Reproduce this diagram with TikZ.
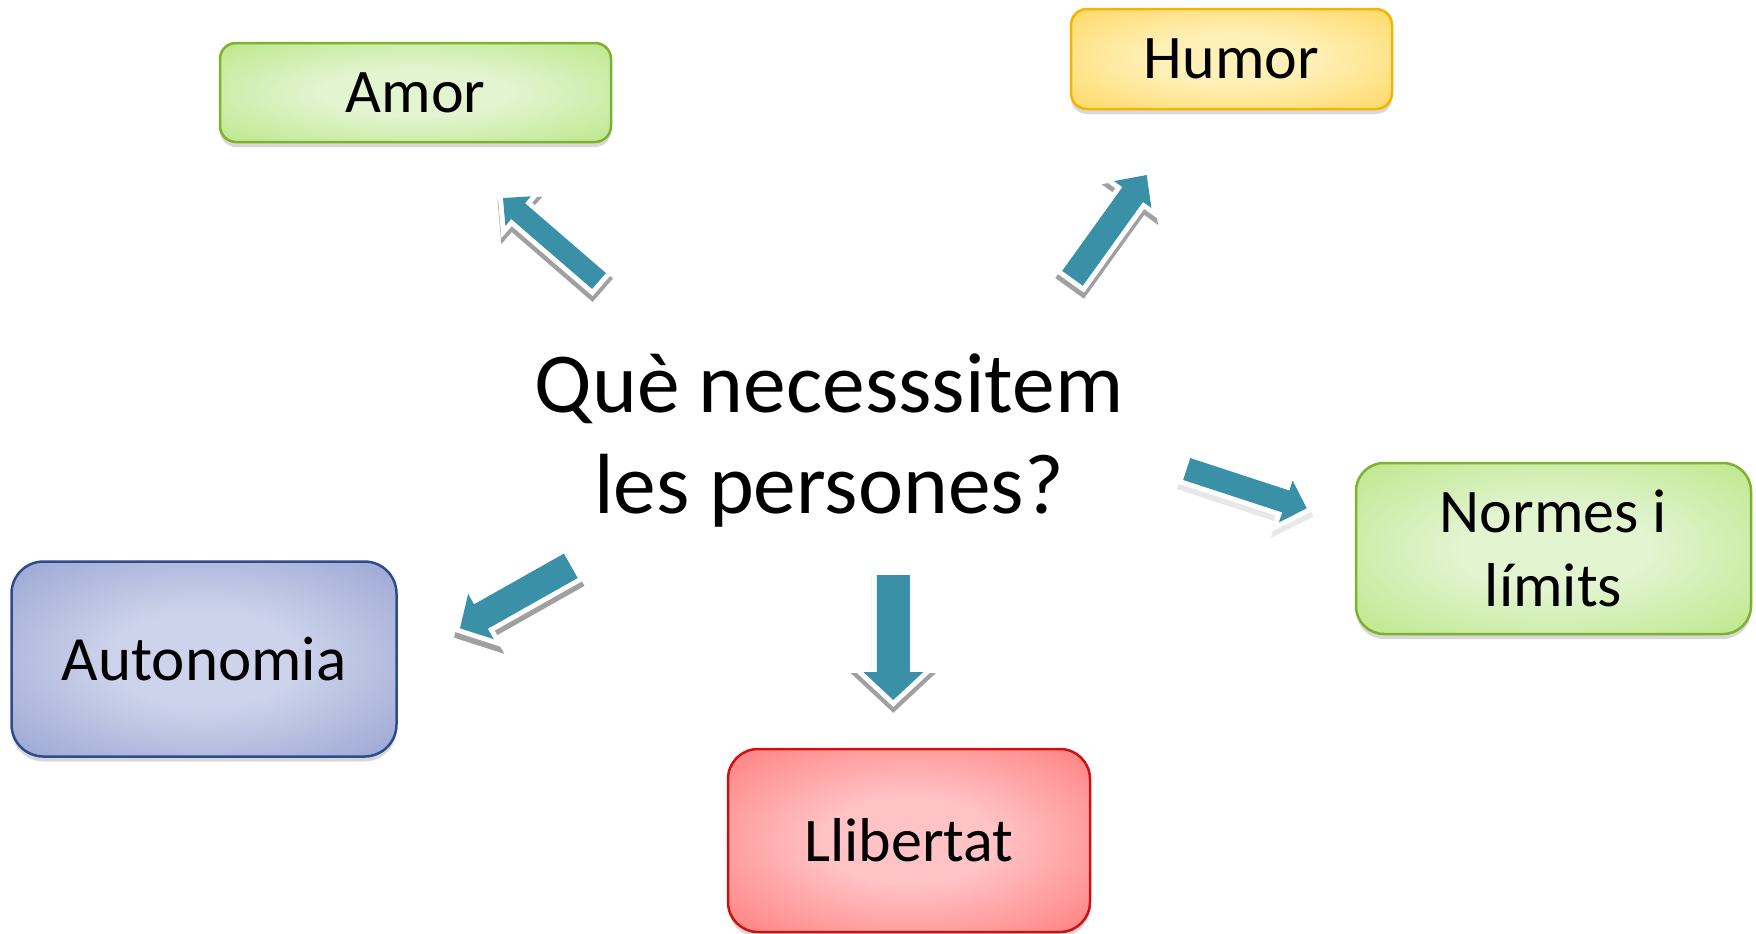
\documentclass[tikz,border=0pt]{standalone}
\usepackage{fontspec}
\setmainfont{Carlito}
\usetikzlibrary{calc,shadows}
\definecolor{arrteal}{RGB}{58,144,166}
\definecolor{grIn}{RGB}{226,244,208}
\definecolor{grOut}{RGB}{188,231,138}
\definecolor{grLine}{RGB}{125,178,47}
\definecolor{yeIn}{RGB}{255,240,184}
\definecolor{yeOut}{RGB}{255,217,102}
\definecolor{yeLine}{RGB}{245,180,0}
\definecolor{blIn}{RGB}{205,211,234}
\definecolor{blOut}{RGB}{154,166,212}
\definecolor{blLine}{RGB}{46,76,140}
\definecolor{rdIn}{RGB}{255,194,197}
\definecolor{rdOut}{RGB}{255,127,127}
\definecolor{rdLine}{RGB}{204,17,17}
\definecolor{shadowgray}{RGB}{160,160,160}
\definecolor{softgray}{RGB}{232,232,232}
\pgfdeclareradialshading{greenshade}{\pgfpointorigin}{color(0bp)=(grIn); color(12bp)=(grIn); color(36bp)=(grOut); color(50bp)=(grOut)}
\pgfdeclareradialshading{yellowshade}{\pgfpointorigin}{color(0bp)=(yeIn); color(12bp)=(yeIn); color(36bp)=(yeOut); color(50bp)=(yeOut)}
\pgfdeclareradialshading{blueshade}{\pgfpointorigin}{color(0bp)=(blIn); color(12bp)=(blIn); color(36bp)=(blOut); color(50bp)=(blOut)}
\pgfdeclareradialshading{redshade}{\pgfpointorigin}{color(0bp)=(rdIn); color(12bp)=(rdIn); color(36bp)=(rdOut); color(50bp)=(rdOut)}
% #1 options, #2 tail, #3 tip, #4 shaft half width, #5 head half width, #6 head length
\newcommand{\arrshape}[6]{%
  \path[#1] ($(#2)!#4!90:(#3)$) -- ($(#3)!#6!(#2)!#4!90:(#3)$) -- ($(#3)!#6!(#2)!#5!90:(#3)$) -- (#3)
    -- ($(#3)!#6!(#2)!#5!-90:(#3)$) -- ($(#3)!#6!(#2)!#4!-90:(#3)$) -- ($(#2)!#4!-90:(#3)$) -- cycle;}
% #1 tail, #2 tip, #3 w, #4 h, #5 L, #6 shadow colour
\newcommand{\blockarrow}[6]{%
  \arrshape{transform canvas={yshift=-3pt}, fill=#6, draw=#6, line width=5pt, line join=miter}{#1}{#2}{#3}{#4}{#5}%
  \arrshape{fill=white, draw=white, line width=5pt, line join=miter}{#1}{#2}{#3}{#4}{#5}%
  \arrshape{fill=arrteal}{#1}{#2}{#3}{#4}{#5}}
\begin{document}
\begin{tikzpicture}[x=0.5pt,y=-0.5pt,
  box/.style={rectangle, line width=1.25pt, align=center, inner sep=0pt,
    font=\fontsize{31}{37}\selectfont,
    drop shadow={shadow xshift=0pt, shadow yshift=-2.5pt, opacity=0.3}},
  greenbox/.style={box, draw=grLine, shading=greenshade},
  yellowbox/.style={box, draw=yeLine, shading=yellowshade},
  bluebox/.style={box, draw=blLine, shading=blueshade},
  redbox/.style={box, draw=rdLine, shading=redshade},
  question/.style={align=center, font=\fontsize{42.7}{50.5}\selectfont}]
\useasboundingbox (0,0) rectangle (1756,933);
\fill[white] (0,0) rectangle (1756,933);

\node[question] (q) at (829,440) {Què necesssitem\\les persones?};

\node[greenbox, rounded corners=8pt, minimum width=195.5pt, minimum height=49.5pt] (amor) at (415.5,92.5) {Amor};
\node[yellowbox, rounded corners=8pt, minimum width=160.5pt, minimum height=50pt] (humor) at (1231.5,59) {Humor};
\node[greenbox, rounded corners=14pt, minimum width=197.5pt, minimum height=85.5pt] (normes) at (1553.5,548.5) {Normes i\\límits};
\node[bluebox, rounded corners=16pt, minimum width=192.5pt, minimum height=97.5pt, font=\fontsize{31.5}{37}\selectfont] (auto) at (204,659) {Autonomia};
\node[redbox, rounded corners=15pt, minimum width=181pt, minimum height=91.5pt] (llib) at (909,840.5) {Llibertat};

\coordinate (a1t) at (599,281);   \coordinate (a1p) at (503,198);
\coordinate (a2t) at (1072.5,278.3); \coordinate (a2p) at (1146.7,175);
\coordinate (a3t) at (1186.7,469); \coordinate (a3p) at (1306.7,508.3);
\coordinate (a4t) at (570.8,565.8); \coordinate (a4p) at (460,628.3);
\coordinate (a5t) at (893.3,575); \coordinate (a5p) at (893.3,700);

\blockarrow{a1t}{a1p}{5.25pt}{9.75pt}{10pt}{shadowgray}
\blockarrow{a2t}{a2p}{6.35pt}{11.5pt}{12pt}{shadowgray}
\blockarrow{a3t}{a3p}{5.75pt}{11pt}{11pt}{softgray}
\blockarrow{a4t}{a4p}{7pt}{13pt}{12pt}{shadowgray}
\blockarrow{a5t}{a5p}{8.25pt}{15pt}{14pt}{shadowgray}
\end{tikzpicture}
\end{document}
